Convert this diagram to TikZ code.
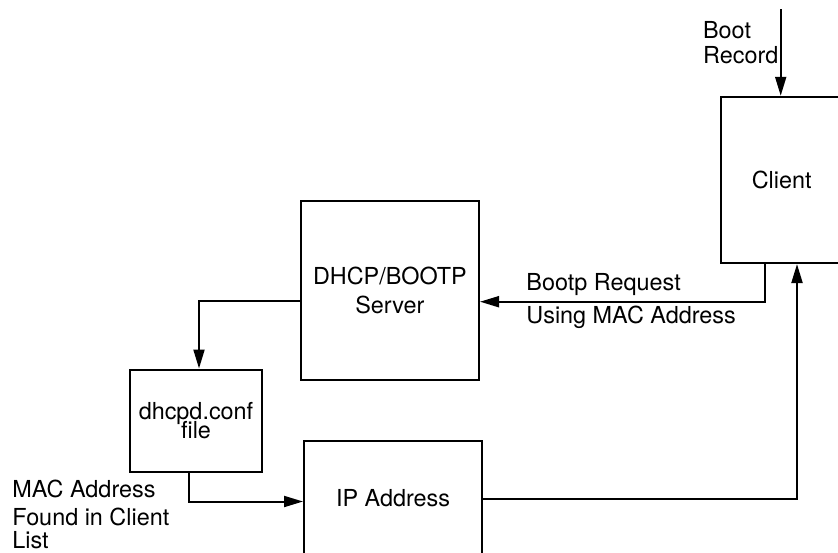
\documentclass[tikz,border=0pt]{standalone}
\usepackage{fontspec}
\setmainfont{TeX Gyre Heros}
\usetikzlibrary{arrows.meta}
\begin{document}
\begin{tikzpicture}[x=0.5pt,y=-0.5pt,
  font=\fontsize{11.7}{14.5}\selectfont,
  box/.style={draw=black, line width=1pt, inner sep=0pt, align=center},
  link/.style={draw=black, line width=1pt, -{Triangle[length=9.5pt,width=5.5pt]}},
  lbl/.style={inner sep=0pt, anchor=base west, align=left}]
\useasboundingbox (0,0) rectangle (838,552);
\clip (0,0) rectangle (838,552);
\fill[white] (0,0) rectangle (838,552);

% boxes
\node[box, minimum width=61pt, minimum height=83.15pt] (client) at (781.7,179.9) {Client};
\node[box, minimum width=89.15pt, minimum height=89.65pt] (server) at (389.85,290.35) {DHCP/BOOTP\\Server};
\node[box, minimum width=66pt, minimum height=51.25pt,
      font={\fontsize{11.7}{9.4}\selectfont\lineskiplimit=-20pt\relax}] (dhcpd) at (196,420.75) {dhcpd.conf\\file};
\node[box, minimum width=89pt, minimum height=57.3pt] (ip) at (393,498) {IP Address};

% turning points of the connectors
\coordinate (bootin) at (780.7,9);
\coordinate (reqturn) at (765,301.7);
\coordinate (srvturn) at (199,300.7);
\coordinate (cfgturn) at (189,501.5);
\coordinate (ipturn) at (797,499.3);

% connectors
\draw[link] (bootin) -- (bootin |- client.north);
\draw[link] (reqturn |- client.south) -- (reqturn) -- (reqturn -| server.east);
\draw[link] (srvturn -| server.west) -- (srvturn) -- (srvturn |- dhcpd.north);
\draw[link] (cfgturn |- dhcpd.south) -- (cfgturn) -- (cfgturn -| ip.west);
\draw[link] (ipturn -| ip.east) -- (ipturn) -- (ipturn |- client.south);

% labels (base anchor sits on the last line)
\node[lbl, font=\fontsize{11.7}{12.5}\selectfont] (bootlbl) at (702.7,63.3) {Boot\\Record};
\node[lbl] (reqlbl) at (526,290.7) {Bootp Request};
\node[lbl] (maclbl) at (526,323) {Using MAC Address};
\node[lbl, font=\fontsize{11.7}{11.65}\selectfont] (foundlbl) at (12,548.3) {MAC Address\\[2.2pt]Found in Client\\List};
\end{tikzpicture}
\end{document}
